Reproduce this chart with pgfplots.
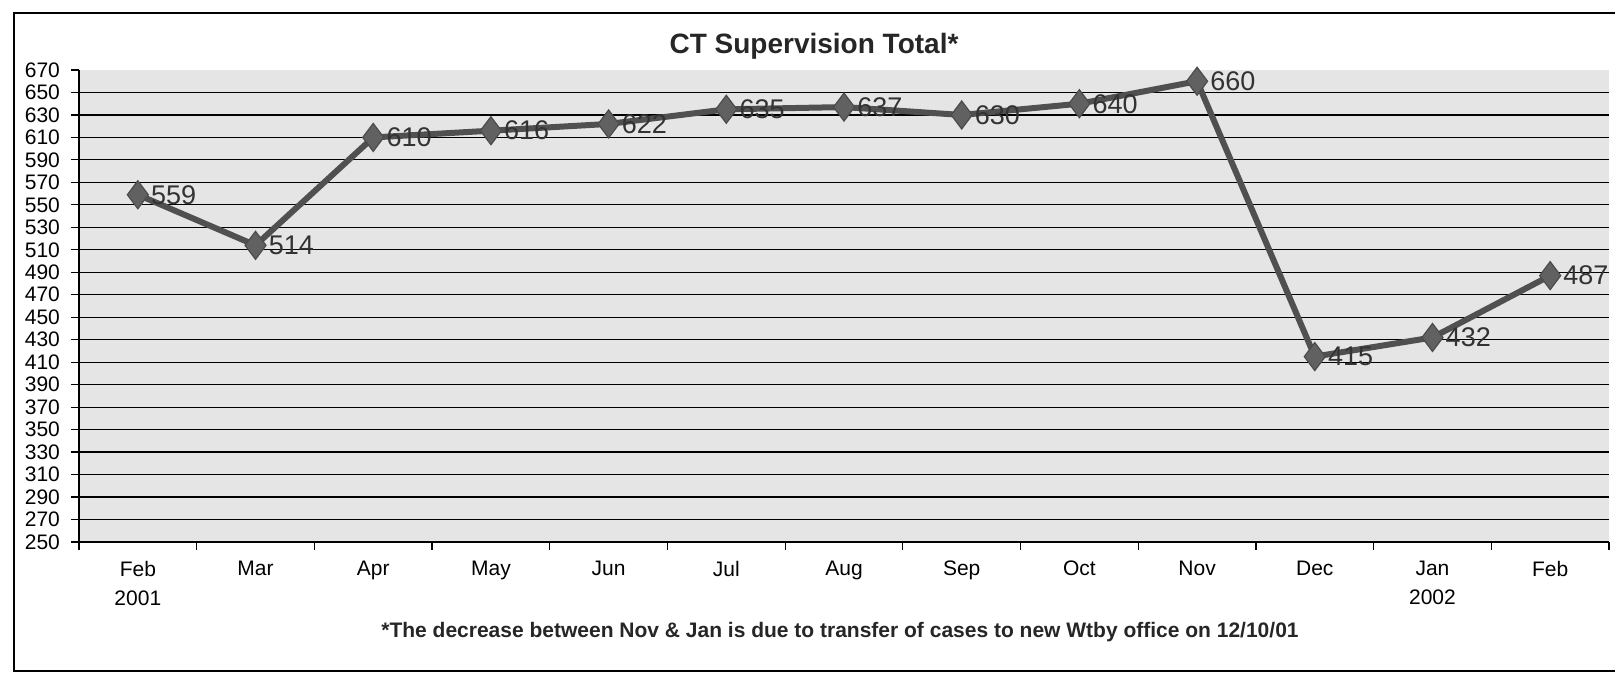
\documentclass[border=0pt]{standalone}
\usepackage{fontspec}
\setmainfont{Liberation Sans}
\usepackage{pgfplots}
\pgfplotsset{compat=1.18}
\definecolor{linegray}{HTML}{505050}
\begin{document}
\begin{tikzpicture}
\useasboundingbox (0pt,0pt) rectangle (807.5pt,337pt);
\draw[line width=0.8pt] (7pt,1.5pt) rectangle (830pt,330.5pt);
\begin{axis}[
  at={(39.5pt,66pt)}, anchor=south west,
  scale only axis, width=765pt, height=236pt,
  xmin=-0.5, xmax=12.5, ymin=250, ymax=670,
  axis x line*=bottom, axis y line*=left,
  axis line style={black, line width=0.6pt, -},
  axis background/.style={fill=gray!20},
  xtick={0,...,12},
  xticklabels={{Feb\\2001},Mar,Apr,May,Jun,Jul,Aug,Sep,Oct,Nov,Dec,{Jan\\2002},Feb},
  x tick label style={align=center, font=\fontsize{10.5}{14.5}\selectfont, yshift=-2pt},
  major x tick style={draw=none},
  minor xtick={-0.5,0.5,...,12.5},
  minor tick length=4pt,
  minor x tick style={black, line width=0.6pt},
  ytick={250,270,...,650},
  extra y ticks={670},
  extra y tick style={grid=none},
  ymajorgrids,
  grid style={black, line width=0.6pt},
  y tick label style={font=\fontsize{10.5}{11}\selectfont, xshift=-2pt},
  tick align=outside, major tick length=4pt,
  y tick style={black, line width=0.6pt},
  /pgf/number format/assume math mode=true,
  /pgf/number format/1000 sep={},
  clip=false,
  nodes near coords,
  nodes near coords style={anchor=west, xshift=3pt, font=\fontsize{13.5}{13.5}\selectfont, text=black!80},
]
\addplot[color=linegray, line width=3pt, mark=diamond*, mark size=7pt,
  mark options={fill=linegray!90, draw=black!70, line width=0.6pt}]
  coordinates {(0,559) (1,514) (2,610) (3,616) (4,622) (5,635) (6,637) (7,630) (8,640) (9,660) (10,415) (11,432) (12,487)};
\end{axis}
\node[font=\fontsize{14}{14}\selectfont\bfseries, text=black!85] at (407pt,314pt) {CT Supervision Total*};
\node[font=\fontsize{10.5}{11}\selectfont\bfseries, text=black!85] at (420pt,21pt) {*The decrease between Nov \& Jan is due to transfer of cases to new Wtby office on 12/10/01};
\end{tikzpicture}
\end{document}
